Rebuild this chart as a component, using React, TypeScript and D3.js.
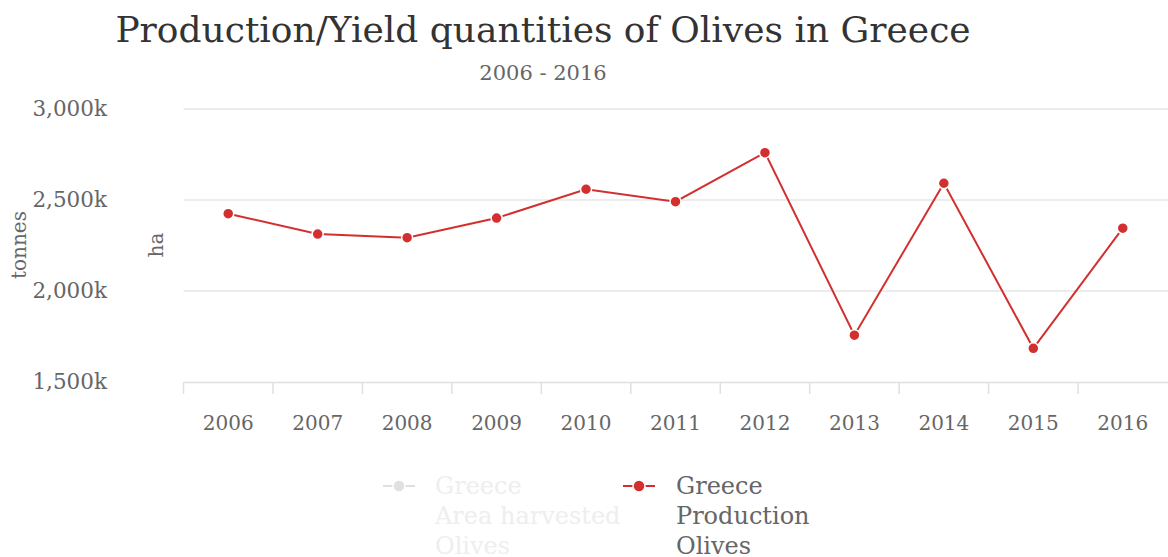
import React from "react";
import * as d3 from "d3";

const years = ["2006", "2007", "2008", "2009", "2010", "2011", "2012", "2013", "2014", "2015", "2016"];
// Production in thousand tonnes
const production = [2425, 2313, 2293, 2401, 2559, 2491, 2760, 1757, 2592, 1685, 2345];
const yTicks = [1500, 2000, 2500, 3000];
const title = "Production/Yield quantities of Olives in Greece";
const subtitle = "2006 - 2016";
const legendItems = [
  { lines: ["Greece", "Area harvested", "Olives"], color: "#e0e0e0", textColor: "#eeeeee" },
  { lines: ["Greece", "Production", "Olives"], color: "#d32f2f", textColor: "#666666" },
];

const W = 1168;
const H = 557;
const FONT = "'DejaVu Serif', serif";

export default function App() {
  const x = d3.scaleBand<string>().domain(years).range([183.5, 1167.5]).padding(0);
  const y = d3.scaleLinear().domain([1500, 3000]).range([382, 109]);
  const fmt = d3.format(",");
  const line = d3
    .line<number>()
    .x((_, i) => (x(years[i]) as number) + x.bandwidth() / 2)
    .y((d) => y(d));
  const red = "#d32f2f";

  return (
    <svg
      width={W}
      height={H}
      style={{ position: "absolute", left: 0, top: 0, background: "#fff" }}
      fontFamily={FONT}
    >
      <text x={543} y={42} textAnchor="middle" fontSize={36} fill="#333">
        {title}
      </text>
      <text x={543} y={80} textAnchor="middle" fontSize={21} fill="#666">
        {subtitle}
      </text>

      {yTicks.slice(1).map((t) => (
        <line key={t} x1={183.5} x2={W} y1={y(t)} y2={y(t)} stroke="#e6e6e6" strokeWidth={1.5} />
      ))}
      {yTicks.map((t) => (
        <text key={"l" + t} x={107} y={y(t) + 7} textAnchor="end" fontSize={21.5} fill="#666">
          {fmt(t)}k
        </text>
      ))}
      <text transform={`translate(26,${245}) rotate(-90)`} textAnchor="middle" fontSize={20} fill="#666">
        tonnes
      </text>
      <text transform={`translate(163,${245}) rotate(-90)`} textAnchor="middle" fontSize={20} fill="#666">
        ha
      </text>

      <line x1={183.5} x2={W} y1={382.5} y2={382.5} stroke="#e0e0e0" strokeWidth={1.5} />
      {years.map((yr) => (
        <line
          key={"t" + yr}
          x1={(x(yr) as number)}
          x2={(x(yr) as number)}
          y1={382}
          y2={394}
          stroke="#e0e0e0"
          strokeWidth={1.5}
        />
      ))}
      {years.map((yr) => (
        <text
          key={"x" + yr}
          x={(x(yr) as number) + x.bandwidth() / 2}
          y={430}
          textAnchor="middle"
          fontSize={20}
          fill="#666"
        >
          {yr}
        </text>
      ))}

      <path d={line(production) || ""} fill="none" stroke={red} strokeWidth={2} />
      {production.map((v, i) => (
        <circle
          key={"p" + i}
          cx={(x(years[i]) as number) + x.bandwidth() / 2}
          cy={y(v)}
          r={5.5}
          fill={red}
          stroke="#fff"
          strokeWidth={1.5}
        />
      ))}

      {legendItems.map((it, k) => {
        const lx = k === 0 ? 383 : 623;
        const tx = k === 0 ? 435 : 676;
        return (
          <g key={"lg" + k}>
            <line x1={lx} x2={lx + 32} y1={486} y2={486} stroke={it.color} strokeWidth={2} />
            <circle cx={lx + 16} cy={486} r={6} fill={it.color} stroke="#fff" strokeWidth={1.5} />
            {it.lines.map((s, j) => (
              <text key={j} x={tx} y={494 + j * 30} fontSize={24} fill={it.textColor}>
                {s}
              </text>
            ))}
          </g>
        );
      })}
    </svg>
  );
}
